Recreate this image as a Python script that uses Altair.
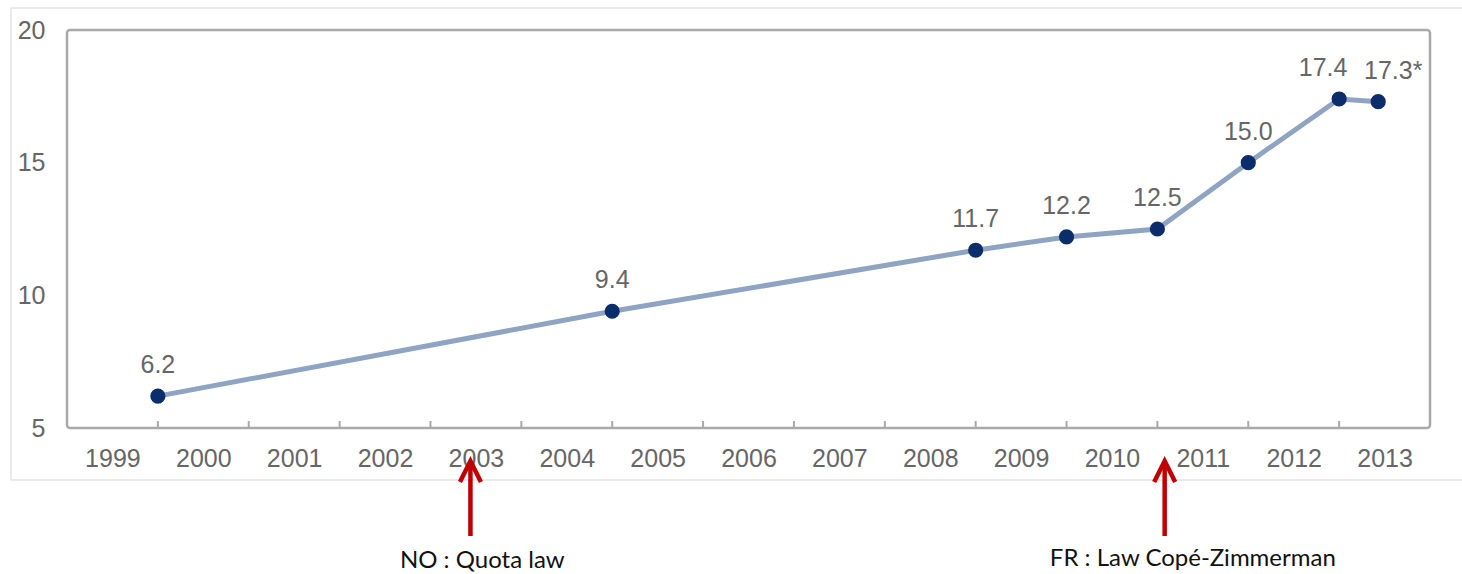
import altair as alt
import pandas as pd

# Share of women on boards (%), placed on a continuous year axis
positions = [2000, 2005, 2009, 2010, 2011, 2012, 2013, 2013.43]
values = [6.2, 9.4, 11.7, 12.2, 12.5, 15.0, 17.4, 17.3]
labels = ["6.2", "9.4", "11.7", "12.2", "12.5", "15.0", "17.4", "17.3*"]

year_labels = list(range(1999, 2014))
y_ticks = [5, 10, 15, 20]

# Legislative milestones marked under the axis
event_x = [2003.44, 2011.08]
event_text = ["NO : Quota law", "FR : Law Copé-Zimmerman"]
event_text_x = [2003.57, 2011.39]
event_text_y = [568, 566]

W, H = 1363, 398
TOP = 30
GRAY_TXT = "#666666"
FRAME = "#a9a9a9"
SANS = "Arial"

series = pd.DataFrame({"yr": positions, "v": values, "lab": labels})
series["i"] = range(len(series))
ticks = pd.DataFrame({"yr": list(range(2000, 2014))})
events = pd.DataFrame({"yr": event_x})
notes = pd.DataFrame({"yr": event_text_x, "t": event_text,
                      "py": [v - TOP for v in event_text_y]})

xs = alt.Scale(domain=[1999, 2014], nice=False, zero=False)
ys = alt.Scale(domain=[5, 20], nice=False, zero=False)

x_axis = alt.Axis(
    values=[y + 0.5 for y in year_labels],
    labelExpr="toString(floor(datum.value))",
    domain=False, ticks=False, grid=False, title=None,
    labelFontSize=25, labelColor=GRAY_TXT, labelFont=SANS,
    labelBaseline="middle", labelPadding=30, labelFlush=False,
)
y_axis = alt.Axis(
    values=y_ticks, domain=False, ticks=False, grid=False, title=None,
    labelFontSize=25, labelColor=GRAY_TXT, labelFont=SANS,
    labelPadding=22, labelBaseline="middle",
)

X = alt.X("yr:Q", scale=xs, axis=x_axis)
Y = alt.Y("v:Q", scale=ys, axis=y_axis)

# Light outer frame around the whole figure
outer = alt.Chart(pd.DataFrame({"a": [0]})).mark_rect(
    fill=None, stroke="#e4e4e4", strokeWidth=1.5
).encode(
    x=alt.value(-56), x2=alt.value(W + 40),
    y=alt.value(-22), y2=alt.value(H + 52),
)

tick_marks = alt.Chart(ticks).mark_rule(color=FRAME, strokeWidth=2).encode(
    x=X, y=alt.value(H), y2=alt.value(H - 7)
)

line = alt.Chart(series).mark_line(color="#8ea4c2", strokeWidth=5).encode(x=X, y=Y)
pts = alt.Chart(series).mark_point(
    filled=True, color="#0c2d6c", size=230, opacity=1
).encode(x=X, y=Y)

text_props = dict(fontSize=25, color=GRAY_TXT, font=SANS,
                  baseline="middle", align="center", dy=-31)
lab_main = alt.Chart(series).transform_filter("datum.i < 6").mark_text(**text_props).encode(
    x=X, y=Y, text="lab:N")
lab_a = alt.Chart(series).transform_filter("datum.i == 6").mark_text(dx=-16, **text_props).encode(
    x=X, y=Y, text="lab:N")
lab_b = alt.Chart(series).transform_filter("datum.i == 7").mark_text(dx=15, **text_props).encode(
    x=X, y=Y, text="lab:N")

RED = "#c00000"
shafts = alt.Chart(events).mark_rule(color=RED, strokeWidth=4.5).encode(
    x=X, y=alt.value(H + 35), y2=alt.value(H + 108)
)
heads = alt.Chart(events).mark_point(
    shape="M -0.5 1 L 0 0 L 0.5 1", size=1764, filled=False,
    stroke=RED, strokeWidth=4.5, opacity=1, strokeJoin="miter"
).encode(x=X, y=alt.value(H + 33))

note_text = alt.Chart(notes).mark_text(
    fontSize=24, font="Lato", color="#111111", align="center", baseline="alphabetic"
).encode(x=X, y=alt.Y("py:Q", scale=None), text="t:N")

chart = alt.layer(
    outer, tick_marks, line, pts, lab_main, lab_a, lab_b, shafts, heads, note_text
).properties(
    width=W, height=H,
    padding={"left": 67, "top": TOP, "right": 32, "bottom": 146},
    autosize=alt.AutoSizeParams(type="none"),
    background="white",
).configure_view(
    stroke=FRAME, strokeWidth=2.5, cornerRadius=3
)

chart.save("out.html", embed_options={"renderer": "svg", "actions": False})
